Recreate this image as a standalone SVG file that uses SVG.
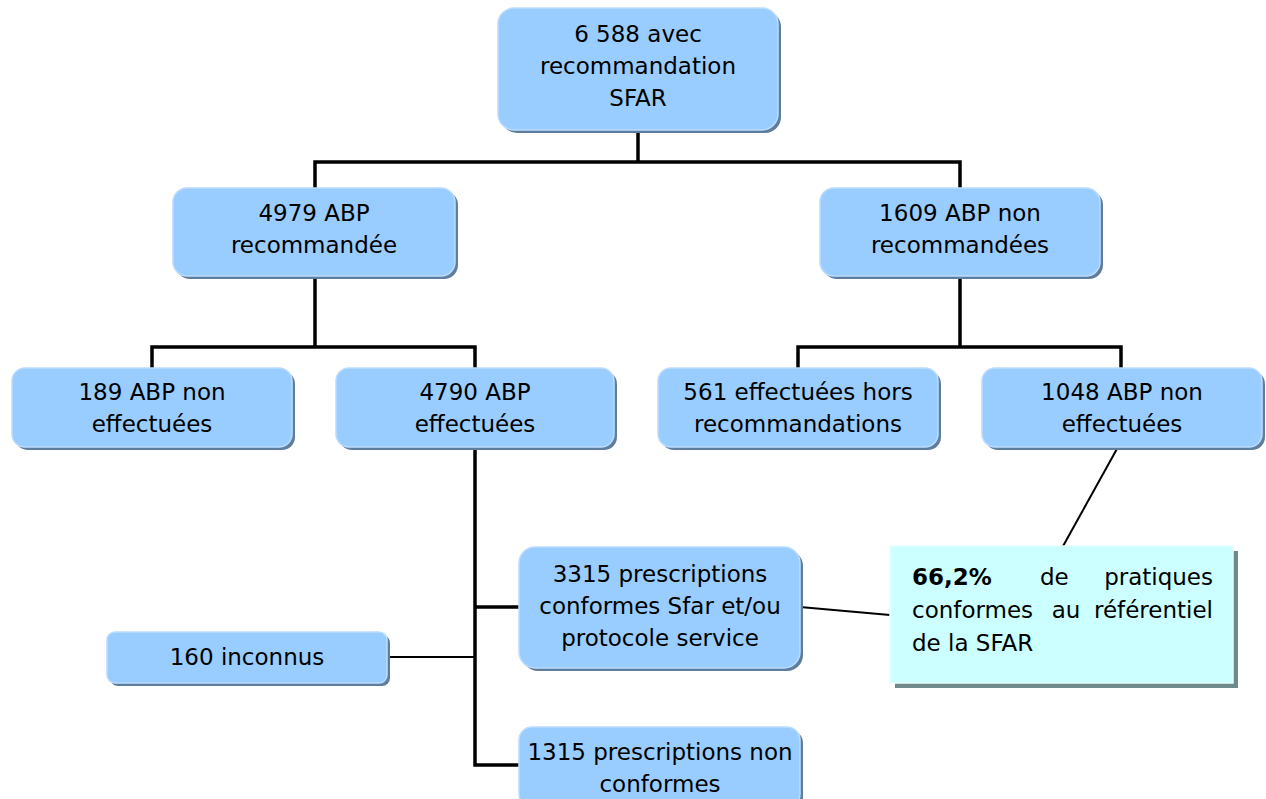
<svg xmlns="http://www.w3.org/2000/svg" width="1266" height="799" viewBox="0 0 1266 799">
<style>
.sh{fill:#5f7d9c}
.bx{fill:#99ccff;stroke:#bcdcff;stroke-width:1.5}
.t{font-family:"DejaVu Sans",Verdana,sans-serif;font-size:23px;fill:#000;text-anchor:middle}
.tl{font-family:"DejaVu Sans",Verdana,sans-serif;font-size:23px;fill:#000}
.c{fill:none;stroke:#000;stroke-width:3.5}
.ct{fill:none;stroke:#000;stroke-width:2}
</style>
<rect width="1266" height="799" fill="#fff"/>
<g id="connectors">
<polyline class="c" points="638,130 638,162"/>
<polyline class="c" points="315,188 315,162 960,162 960,188"/>
<polyline class="c" points="315,276 315,347"/>
<polyline class="c" points="152,368 152,347 475,347 475,368"/>
<polyline class="c" points="960,276 960,347"/>
<polyline class="c" points="798,368 798,347 1121,347 1121,368"/>
<polyline class="c" points="475,447 475,765 519,765"/>
<polyline class="c" points="475,607 519,607"/>
<line class="ct" x1="387" y1="657" x2="475" y2="657"/>
<line class="ct" x1="800" y1="607" x2="890" y2="615"/>
<line class="ct" x1="1118" y1="447" x2="1062" y2="548"/>
</g>
<g id="n-top">
<rect class="sh" x="501" y="11" width="280" height="122" rx="16"/>
<rect class="bx" x="498" y="8" width="280" height="122" rx="16"/>
<text class="t" x="638" y="42">6 588 avec</text>
<text class="t" x="638" y="74">recommandation</text>
<text class="t" x="638" y="106">SFAR</text>
</g>
<g id="n-4979">
<rect class="sh" x="176" y="191" width="282" height="88" rx="14"/>
<rect class="bx" x="173" y="188" width="282" height="88" rx="14"/>
<text class="t" x="314" y="221">4979 ABP</text>
<text class="t" x="314" y="253">recommandée</text>
</g>
<g id="n-1609">
<rect class="sh" x="823" y="191" width="280" height="88" rx="14"/>
<rect class="bx" x="820" y="188" width="280" height="88" rx="14"/>
<text class="t" x="960" y="221">1609 ABP non</text>
<text class="t" x="960" y="253">recommandées</text>
</g>
<g id="n-189">
<rect class="sh" x="15" y="371" width="280" height="79" rx="13"/>
<rect class="bx" x="12" y="368" width="280" height="79" rx="13"/>
<text class="t" x="152" y="400">189 ABP non</text>
<text class="t" x="152" y="432">effectuées</text>
</g>
<g id="n-4790">
<rect class="sh" x="339" y="371" width="278" height="79" rx="13"/>
<rect class="bx" x="336" y="368" width="278" height="79" rx="13"/>
<text class="t" x="475" y="400">4790 ABP</text>
<text class="t" x="475" y="432">effectuées</text>
</g>
<g id="n-561">
<rect class="sh" x="661" y="371" width="280" height="79" rx="13"/>
<rect class="bx" x="658" y="368" width="280" height="79" rx="13"/>
<text class="t" x="798" y="400">561 effectuées hors</text>
<text class="t" x="798" y="432">recommandations</text>
</g>
<g id="n-1048">
<rect class="sh" x="985" y="371" width="280" height="79" rx="13"/>
<rect class="bx" x="982" y="368" width="280" height="79" rx="13"/>
<text class="t" x="1122" y="400">1048 ABP non</text>
<text class="t" x="1122" y="432">effectuées</text>
</g>
<g id="n-3315">
<rect class="sh" x="522" y="550" width="281" height="121" rx="16"/>
<rect class="bx" x="519" y="547" width="281" height="121" rx="16"/>
<text class="t" x="660" y="582">3315 prescriptions</text>
<text class="t" x="660" y="614">conformes Sfar et/ou</text>
<text class="t" x="660" y="646">protocole service</text>
</g>
<g id="n-160">
<rect class="sh" x="110" y="635" width="280" height="51" rx="8"/>
<rect class="bx" x="107" y="632" width="280" height="51" rx="8"/>
<text class="t" x="247" y="665">160 inconnus</text>
</g>
<g id="n-1315">
<rect class="sh" x="522" y="730" width="281" height="80" rx="13"/>
<rect class="bx" x="519" y="727" width="281" height="80" rx="13"/>
<text class="t" x="660" y="760">1315 prescriptions non</text>
<text class="t" x="660" y="792">conformes</text>
</g>
<g id="n-callout">
<rect x="895" y="551" width="343" height="137" fill="#6f8a8a"/>
<rect x="890" y="546" width="343" height="137" fill="#ccffff" stroke="#e6ffff" stroke-width="1.5"/>
<text class="tl" x="912" y="585" font-weight="bold">66,2%</text>
<text class="tl" x="1040" y="585">de</text>
<text class="tl" x="1213" y="585" text-anchor="end">pratiques</text>
<text class="tl" x="912" y="618">conformes</text>
<text class="tl" x="1066" y="618" text-anchor="middle">au</text>
<text class="tl" x="1213" y="618" text-anchor="end">référentiel</text>
<text class="tl" x="912" y="651">de la SFAR</text>
</g>
</svg>
